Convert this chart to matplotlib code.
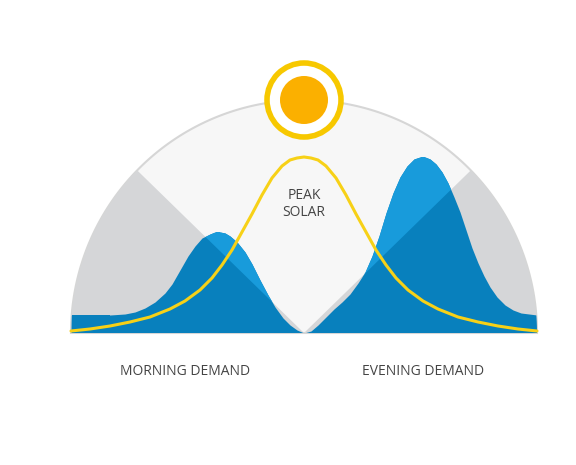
import numpy as np
import matplotlib
matplotlib.use("Agg")
import matplotlib.pyplot as plt
from matplotlib.patches import Polygon, Circle

# Demand curve (x position, screen height)
demand_x = [71,90,110,125,135,145,155,165,172,180,188,195,202,210,215,220,225,230,237,245,252,260,268,275,283,290,297,304,
            311,318,326,334,342,350,358,365,372,379,386,393,400,407,414,420,425,430,436,442,448,454,460,466,472,478,484,490,497,505,513,521,529,537]
demand_y = [315,315,315,314,312,308,302,293,284,270,256,246,238,234,232,232,233,236,242,252,264,280,295,307,318,325,330,333,
            331,325,317,309,302,294,283,272,256,236,213,193,177,166,159,157,157,159,164,172,183,197,212,230,248,263,276,287,297,305,310,313,314,315]
# Solar curve
solar_x = [71,90,110,130,150,170,185,200,212,222,232,242,252,262,272,282,290,297,304,311,318,326,336,346,356,366,376,386,396,408,423,438,458,478,498,518,537]
solar_y = [331,329,326,322,317,309,301,290,278,265,250,232,214,195,178,166,160,158,157,158,160,166,178,195,214,232,250,265,278,290,301,309,317,322,326,329,331]
labels = ["MORNING DEMAND", "EVENING DEMAND"]

cx, cy, R = 304, 333, 233
fig = plt.figure(figsize=(5.76, 4.65), dpi=100)
ax = fig.add_axes([0, 0, 1, 1])
ax.set_xlim(0, 576); ax.set_ylim(465, 0); ax.axis("off")

th = np.linspace(0, np.pi, 200)
semi = np.column_stack([cx + R*np.cos(th), cy - R*np.sin(th)])
ax.add_patch(Polygon(semi, closed=True, facecolor="#f7f7f7", edgecolor="#d6d6d6", lw=1.5, zorder=1))
clip = Polygon(semi, closed=True, transform=ax.transData)

for pts in ([(cx, cy), (cx-400, cy-390), (-100, cy)], [(cx, cy), (cx+400, cy-390), (700, cy)]):
    g = Polygon(pts, closed=True, facecolor="#d5d6d8", edgecolor="none", zorder=2)
    ax.add_patch(g); g.set_clip_path(clip)

dark = ax.fill_between(demand_x, demand_y, cy, color="#0880bd", lw=0, zorder=3)
dark.set_clip_path(clip)
vclip = Polygon([(cx, cy), (cx-400, cy-390), (cx+400, cy-390)], closed=True, transform=ax.transData)
light = ax.fill_between(demand_x, demand_y, cy, color="#189bdb", lw=0, zorder=4)
light.set_clip_path(vclip)

ax.plot(solar_x, solar_y, color="#f7d117", lw=2.2, zorder=5, solid_capstyle="round", solid_joinstyle="round")

ax.add_patch(Circle((cx, 100), 37, facecolor="white", edgecolor="#f7c800", lw=4, zorder=6))
ax.add_patch(Circle((cx, 100), 24, facecolor="#fbb000", edgecolor="none", zorder=7))

fam = ["Open Sans", "DejaVu Sans"]
ax.text(cx, 204, "PEAK\nSOLAR", ha="center", va="center", fontsize=10, color="#444444", linespacing=1.1, zorder=8, family=fam)
ax.text(185, 371, labels[0], ha="center", va="center", fontsize=10, color="#444444", family=fam)
ax.text(423, 371, labels[1], ha="center", va="center", fontsize=10, color="#444444", family=fam)
fig.savefig("out.png", dpi=100, facecolor="white")
